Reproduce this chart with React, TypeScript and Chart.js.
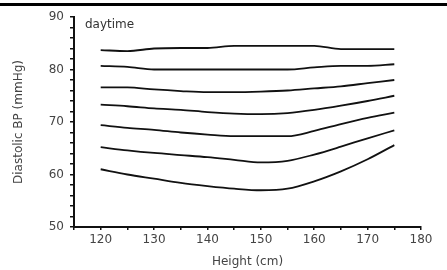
import React, { useEffect, useRef } from "react";
import { Chart, registerables } from "chart.js";

Chart.register(...registerables);

const heights = [120, 125, 130, 135, 140, 145, 150, 155, 160, 165, 170, 175];

const p95 = [83.7, 83.5, 84.0, 84.1, 84.1, 84.5, 84.5, 84.5, 84.5, 83.9, 83.9, 83.9];
const p90 = [80.7, 80.5, 80.0, 80.0, 80.0, 80.0, 80.0, 80.0, 80.4, 80.7, 80.7, 81.0];
const p75 = [76.6, 76.6, 76.2, 75.9, 75.7, 75.7, 75.8, 76.0, 76.4, 76.8, 77.4, 78.0];
const p50 = [73.3, 73.0, 72.6, 72.3, 71.9, 71.6, 71.5, 71.7, 72.3, 73.1, 74.0, 75.0];
const p25 = [69.4, 68.9, 68.5, 68.0, 67.6, 67.3, 67.3, 67.3, 68.3, 69.6, 70.8, 71.8];
const p10 = [65.2, 64.6, 64.1, 63.7, 63.3, 62.8, 62.3, 62.6, 63.8, 65.3, 66.9, 68.4];
const p5 = [61.0, 60.0, 59.2, 58.4, 57.8, 57.3, 57.0, 57.3, 58.7, 60.6, 62.9, 65.6];

const seriesList = [p95, p90, p75, p50, p25, p10, p5];

const xLabelsShown = [120, 130, 140, 150, 160, 170, 180];
const yLabelsShown = [50, 60, 70, 80, 90];

const annotationText = "daytime";
const xTitle = "Height (cm)";
const yTitle = "Diastolic BP (mmHg)";

const FONT = "'DejaVu Sans', Verdana, sans-serif";

export default function App() {
  const ref = useRef<HTMLCanvasElement | null>(null);

  useEffect(() => {
    document.body.style.margin = "0";
    const canvas = ref.current;
    if (!canvas) return;

    const overlay = {
      id: "overlay",
      afterDraw(chart: any) {
        const ctx = chart.ctx;
        ctx.save();
        ctx.fillStyle = "#000";
        ctx.fillRect(0, 3, 447, 3);
        ctx.fillStyle = "#333";
        ctx.font = "12px " + FONT;
        ctx.textBaseline = "alphabetic";
        ctx.textAlign = "left";
        ctx.fillText(annotationText, 85, 28);
        ctx.restore();
      },
    };

    const chart = new Chart(canvas, {
      type: "line",
      data: {
        datasets: seriesList.map((s) => ({
          data: s.map((v, i) => ({ x: heights[i], y: v })),
          borderColor: "#111",
          borderWidth: 1.8,
          pointRadius: 0,
          tension: 0.3,
          cubicInterpolationMode: "monotone" as const,
          fill: false,
        })),
      },
      options: {
        responsive: false,
        animation: false,
        events: [],
        layout: { padding: { top: 17, right: 26, left: 12, bottom: 1 } },
        plugins: { legend: { display: false }, tooltip: { enabled: false } },
        scales: {
          x: {
            type: "linear",
            min: 115,
            max: 180,
            afterFit(scale: any) {
              scale.height = 42;
            },
            ticks: {
              stepSize: 5,
              autoSkip: false,
              maxRotation: 0,
              padding: 3,
              color: "#444",
              font: { family: FONT, size: 12 },
              callback: (v: any) => (xLabelsShown.includes(Number(v)) ? String(v) : ""),
            },
            grid: { drawOnChartArea: false, drawTicks: true, tickLength: 3, color: "#111", lineWidth: 1.5 },
            border: { display: true, color: "#111", width: 2 },
            title: {
              display: true,
              text: xTitle,
              color: "#444",
              padding: { top: 0, bottom: 0 },
              font: { family: FONT, size: 12 },
            },
          },
          y: {
            type: "linear",
            min: 50,
            max: 90,
            afterFit(scale: any) {
              scale.width = 62;
            },
            ticks: {
              stepSize: 2,
              autoSkip: false,
              padding: 6,
              color: "#444",
              font: { family: FONT, size: 12 },
              callback: (v: any) => (yLabelsShown.includes(Number(v)) ? String(v) : ""),
            },
            grid: { drawOnChartArea: false, drawTicks: true, tickLength: 4, color: "#111", lineWidth: 1.5 },
            border: { display: true, color: "#111", width: 2 },
            title: {
              display: true,
              text: yTitle,
              color: "#444",
              padding: { top: 0, bottom: 0 },
              font: { family: FONT, size: 12 },
            },
          },
        },
      },
      plugins: [overlay],
    });

    return () => chart.destroy();
  }, []);

  return (
    <div style={{ width: 447, height: 270, background: "#fff" }}>
      <canvas ref={ref} width={447} height={270} style={{ display: "block" }} />
    </div>
  );
}
